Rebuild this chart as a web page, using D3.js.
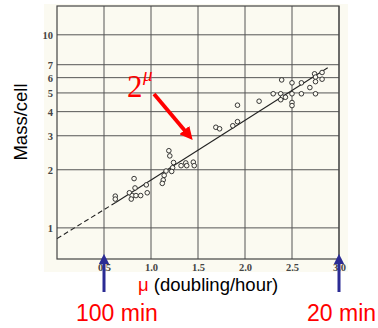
<!DOCTYPE html>
<html>
<head>
<meta charset="utf-8">
<script src="https://cdn.jsdelivr.net/npm/d3@7"></script>
<style>
  body { margin: 0; background: #fff; }
  .axis text { font-family: "Liberation Serif", "DejaVu Serif", serif; font-size: 10.5px; fill: #444; font-weight: bold; }
  .axis path, .axis line { display: none; }
</style>
</head>
<body>
<div id="chart-area"></div>
<script>
// dados (mu em duplicações/hora, massa por célula)
const mu = [0.62, 0.62, 0.82, 0.83, 0.77, 0.80, 0.84, 0.89, 0.79, 0.95, 0.96,
  1.19, 1.20, 1.24, 1.16, 1.23, 1.22, 1.14, 1.13, 1.12, 1.32, 1.37, 1.38, 1.45, 1.46,
  1.69, 1.73, 1.87, 1.92, 1.92, 2.15,
  2.39, 2.50, 2.60, 2.74, 2.75, 2.82, 2.82, 2.75, 2.69, 2.30, 2.38, 2.40, 2.43, 2.38,
  2.50, 2.60, 2.75, 2.50, 2.50]
const mass = [1.46, 1.41, 1.80, 1.61, 1.52, 1.47, 1.47, 1.47, 1.41, 1.67, 1.52,
  2.51, 2.36, 2.18, 1.97, 2.05, 1.96, 1.87, 1.77, 1.70, 2.10, 2.17, 2.10, 2.19, 2.10,
  3.32, 3.26, 3.38, 3.55, 4.32, 4.53,
  5.84, 5.64, 5.64, 6.28, 6.04, 6.38, 5.89, 5.72, 5.33, 4.95, 4.95, 4.75, 4.75, 4.61,
  4.95, 4.95, 4.95, 4.46, 4.30]

// reta ajustada: parte tracejada (extrapolação) e parte cheia
const fitMu = [0, 0.62, 2.88]
const fitMass = [0.88, 1.35, 6.75]

// ticks
const xTicks = [0.5, 1.0, 1.5, 2.0, 2.5, 3.0]
const yTicks = [1, 2, 3, 4, 5, 6, 7, 10]

const margin = { left: 57, right: 39, top: 6, bottom: 69 }
const width = 378 - margin.left - margin.right
const height = 328 - margin.top - margin.bottom

const svg = d3.select("#chart-area").append("svg")
  .attr("width", 378)
  .attr("height", 328)

// fundo creme da página escaneada
svg.append("rect")
  .attr("x", 44).attr("y", 4)
  .attr("width", 304).attr("height", 268)
  .attr("fill", "#fbfaf1")

const grafico = svg.append("g")
  .attr("transform", `translate(${margin.left}, ${margin.top})`)

const x = d3.scaleLinear()
  .domain([0, 3])
  .range([0, width])

const y = d3.scaleLog()
  .domain([0.69, 14.1])
  .range([height, 0])

// grade
grafico.selectAll(".vgrid")
  .data(xTicks)
  .enter().append("line")
  .attr("x1", d => x(d)).attr("x2", d => x(d))
  .attr("y1", 0).attr("y2", height)
  .attr("stroke", "#555").attr("stroke-width", 1)

grafico.selectAll(".hgrid")
  .data(yTicks)
  .enter().append("line")
  .attr("y1", d => y(d)).attr("y2", d => y(d))
  .attr("x1", 0).attr("x2", width)
  .attr("stroke", "#555").attr("stroke-width", 1)

grafico.append("rect")
  .attr("width", width).attr("height", height)
  .attr("fill", "none").attr("stroke", "#444").attr("stroke-width", 1.2)

// eixos (só os rótulos)
grafico.append("g")
  .attr("class", "x axis")
  .attr("transform", `translate(0, ${height})`)
  .call(d3.axisBottom(x).tickValues(xTicks).tickSize(0).tickPadding(5).tickFormat(d3.format(".1f")))

grafico.append("g")
  .attr("class", "y axis")
  .call(d3.axisLeft(y).tickValues(yTicks).tickSize(0).tickPadding(4).tickFormat(d3.format("d")))

// reta ajustada
grafico.append("path")
  .attr("d", `M${x(fitMu[0])},${y(fitMass[0])}L${x(fitMu[1])},${y(fitMass[1])}`)
  .attr("fill", "none").attr("stroke", "#222").attr("stroke-width", 1.1)
  .attr("stroke-dasharray", "5,3")

grafico.append("path")
  .attr("d", `M${x(fitMu[1])},${y(fitMass[1])}L${x(fitMu[2])},${y(fitMass[2])}`)
  .attr("fill", "none").attr("stroke", "#222").attr("stroke-width", 1.1)

// pontos
grafico.selectAll("circle")
  .data(mu)
  .enter().append("circle")
  .attr("cx", (d) => x(d))
  .attr("cy", (d, i) => y(mass[i]))
  .attr("r", 2.3)
  .attr("fill", "#fbfaf1")
  .attr("stroke", "#222")
  .attr("stroke-width", 0.9)

// marcadores de seta
const defs = svg.append("defs")
defs.append("marker")
  .attr("id", "redhead")
  .attr("viewBox", "0 0 10 10")
  .attr("refX", 2).attr("refY", 5)
  .attr("markerWidth", 3.4).attr("markerHeight", 3.4)
  .attr("markerUnits", "strokeWidth")
  .attr("orient", "auto")
  .append("path").attr("d", "M0,0L10,5L0,10Z").attr("fill", "#f00")

defs.append("marker")
  .attr("id", "bluehead")
  .attr("viewBox", "0 0 10 10")
  .attr("refX", 2).attr("refY", 5)
  .attr("markerWidth", 3.4).attr("markerHeight", 3.4)
  .attr("markerUnits", "strokeWidth")
  .attr("orient", "auto")
  .append("path").attr("d", "M0,0L10,5L0,10Z").attr("fill", "#2b2b94")

// seta vermelha e rótulo 2^mu
svg.append("line")
  .attr("x1", 154).attr("y1", 94)
  .attr("x2", 186).attr("y2", 132)
  .attr("stroke", "#f00").attr("stroke-width", 3.8)
  .attr("marker-end", "url(#redhead)")

svg.append("text")
  .attr("x", 127).attr("y", 97)
  .attr("font-family", "Liberation Serif, serif")
  .attr("font-size", "31px")
  .attr("fill", "#f00")
  .text("2")

svg.append("text")
  .attr("x", 143).attr("y", 81)
  .attr("font-family", "Liberation Serif, serif")
  .attr("font-style", "italic")
  .attr("font-size", "19px")
  .attr("fill", "#f00")
  .text("μ")

// setas azuis em 0.5 e 3.0
const setas = [0.5, 3.0]
svg.selectAll(".blue")
  .data(setas)
  .enter().append("line")
  .attr("x1", d => margin.left + x(d)).attr("x2", d => margin.left + x(d))
  .attr("y1", 292).attr("y2", 262)
  .attr("stroke", "#2b2b94").attr("stroke-width", 3)
  .attr("marker-end", "url(#bluehead)")

// título do eixo X
const xLabel = svg.append("text")
  .attr("x", 138).attr("y", 291)
  .attr("font-family", "Liberation Sans, Arial, sans-serif")
  .attr("font-size", "18.5px")
xLabel.append("tspan").attr("fill", "#f00").text("μ")
xLabel.append("tspan").attr("fill", "#000").text(" (doubling/hour)")

// título do eixo Y
svg.append("text")
  .attr("transform", "translate(27, 122) rotate(-90)")
  .attr("text-anchor", "middle")
  .attr("font-family", "Liberation Sans, Arial, sans-serif")
  .attr("font-size", "18.5px")
  .text("Mass/cell")

// tempos de duplicação
svg.append("text")
  .attr("x", 76).attr("y", 321)
  .attr("font-family", "Liberation Sans, Arial, sans-serif")
  .attr("font-size", "23px")
  .attr("fill", "#f00")
  .text("100 min")

svg.append("text")
  .attr("x", 307).attr("y", 321)
  .attr("font-family", "Liberation Sans, Arial, sans-serif")
  .attr("font-size", "23px")
  .attr("fill", "#f00")
  .text("20 min")
</script>
</body>
</html>
